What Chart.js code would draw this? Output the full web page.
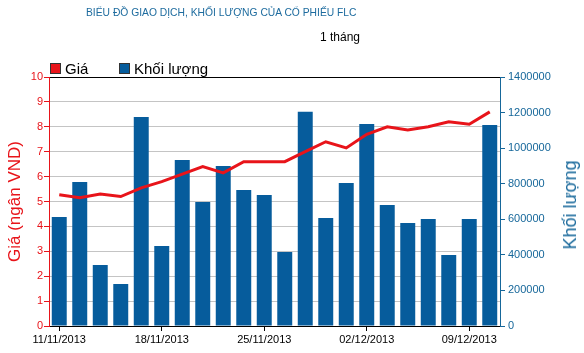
<!DOCTYPE html>
<html>
<head>
<meta charset="utf-8">
<script src="https://cdn.jsdelivr.net/npm/chart.js@4"></script>
<style>
    html, body { margin: 0; padding: 0; background: #fff; }
    #wrap { position: relative; width: 584px; height: 353px; font-family: "Liberation Sans", Arial, sans-serif; }
    #chart { position: absolute; left: 0; top: 0; }
    .txt { position: absolute; white-space: nowrap; line-height: 1; }
    .box { position: absolute; width: 9px; height: 9px; border: 1px solid #333; }
</style>
</head>
<body>
<div id="wrap">
    <canvas id="chart" width="584" height="353"></canvas>
    <div class="txt" style="left:86px; top:8px; font-size:10.3px; color:#1d6b9e;">BIỂU ĐỒ GIAO DỊCH, KHỐI LƯỢNG CỦA CỔ PHIẾU FLC</div>
    <div class="txt" style="left:320px; top:31px; font-size:12px; color:#000;">1 tháng</div>
    <div class="box" style="left:50px; top:63px; background:#e8141a;"></div>
    <div class="txt" style="left:65px; top:61px; font-size:15px; color:#000;">Giá</div>
    <div class="box" style="left:119px; top:63px; background:#065c9c;"></div>
    <div class="txt" style="left:134px; top:61px; font-size:15px; color:#000;">Khối lượng</div>
    <div class="txt" id="rightTitle" style="left:570px; top:205px; font-size:18px; color:#16679a; transform: translate(-50%, -50%) rotate(-90deg);">Khối lượng</div>
</div>
<script>
console.log("flc chart script loaded");

// dữ liệu
const dates = ['11/11/2013', '12/11/2013', '13/11/2013', '14/11/2013', '15/11/2013',
    '18/11/2013', '19/11/2013', '20/11/2013', '21/11/2013', '22/11/2013',
    '25/11/2013', '26/11/2013', '27/11/2013', '28/11/2013', '29/11/2013',
    '02/12/2013', '03/12/2013', '04/12/2013', '05/12/2013', '06/12/2013',
    '09/12/2013', '10/12/2013'];
const shownDates = ['11/11/2013', '18/11/2013', '25/11/2013', '02/12/2013', '09/12/2013'];
const price = [5.27, 5.15, 5.3, 5.2, 5.55, 5.8, 6.1, 6.4, 6.15, 6.6, 6.6,
    6.6, 7.0, 7.4, 7.15, 7.7, 8.0, 7.87, 8.0, 8.2, 8.1, 8.6];
const volume = [613000, 810000, 343000, 236000, 1175000, 450000, 933000, 697000, 900000, 765000, 736000,
    416000, 1204000, 607000, 804000, 1136000, 680000, 579000, 602000, 399000, 602000, 1130000];

const RED = '#e8141a';
const BLUE = '#065c9c';
const TEAL = '#16679a';
const FONT = '"Liberation Sans", Arial, sans-serif';

const ctx = document.getElementById('chart').getContext('2d');
new Chart(ctx, {
    type: 'bar',
    data: {
        labels: dates,
        datasets: [
            {
                type: 'line',
                label: 'Giá',
                data: price,
                yAxisID: 'y',
                borderColor: RED,
                borderWidth: 3,
                pointRadius: 0,
                tension: 0,
                order: 0
            },
            {
                label: 'Khối lượng',
                data: volume,
                yAxisID: 'y1',
                backgroundColor: BLUE,
                categoryPercentage: 1,
                barPercentage: 0.73,
                order: 1
            }
        ]
    },
    options: {
        responsive: false,
        animation: false,
        layout: { padding: { top: 77, left: 0, right: 0, bottom: 0 } },
        plugins: {
            legend: { display: false },
            tooltip: { enabled: false }
        },
        scales: {
            x: {
                afterFit: scale => { scale.height = 27; },
                border: { color: '#000', width: 1 },
                grid: {
                    offset: false,
                    drawOnChartArea: false,
                    tickLength: 5,
                    color: c => shownDates.includes(dates[c.index]) ? '#000' : 'rgba(0,0,0,0)'
                },
                ticks: {
                    autoSkip: false,
                    maxRotation: 0,
                    padding: 2,
                    color: '#000',
                    font: { family: FONT, size: 11 },
                    callback: (v, i) => shownDates.includes(dates[i]) ? dates[i] : ''
                }
            },
            y: {
                position: 'left',
                min: 0,
                max: 10,
                afterFit: scale => { scale.width = 49; },
                border: { color: RED, width: 1 },
                grid: {
                    color: c => c.tick && c.tick.value === 10 ? '#000' : '#c4c4c4',
                    tickColor: RED,
                    tickLength: 5
                },
                ticks: {
                    stepSize: 1,
                    padding: 1,
                    color: RED,
                    font: { family: FONT, size: 11 }
                },
                title: {
                    display: true,
                    text: 'Giá (ngân VND)',
                    color: RED,
                    padding: { top: 5, bottom: 0 },
                    font: { family: FONT, size: 17 }
                }
            },
            y1: {
                position: 'right',
                min: 0,
                max: 1400000,
                afterFit: scale => { scale.width = 84; },
                border: { color: TEAL, width: 1 },
                grid: {
                    drawOnChartArea: false,
                    color: TEAL,
                    tickLength: 5
                },
                ticks: {
                    stepSize: 200000,
                    padding: 3,
                    color: TEAL,
                    font: { family: FONT, size: 11 },
                    callback: v => String(v)
                }
            }
        }
    }
});
</script>
</body>
</html>
